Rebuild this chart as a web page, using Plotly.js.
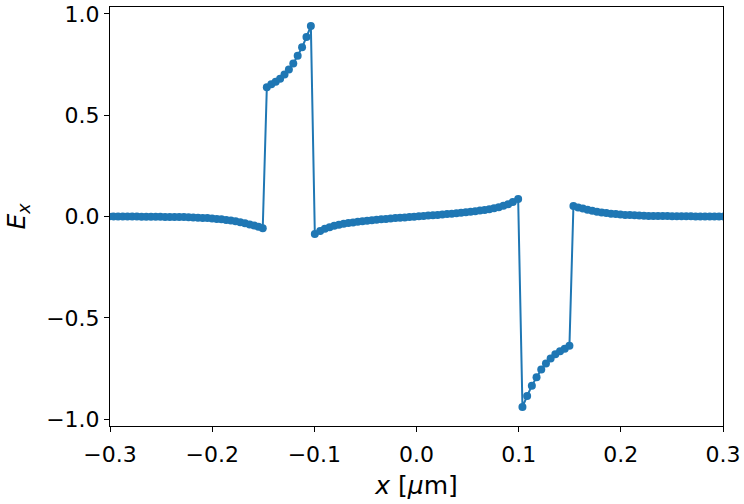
<!DOCTYPE html>
<html>
<head>
<meta charset="utf-8">
<script src="https://cdn.plot.ly/plotly-3.0.1.min.js"></script>
<style>
  body { margin: 0; background: #fff; }
  #myDiv { width: 744px; height: 504px; }
</style>
</head>
<body>
<div id="myDiv"></div>
<script>
// sample positions [um]
var xPos = [
  -0.3013, -0.2967, -0.2921, -0.2875, -0.2829, -0.2783, -0.2737, -0.2691, -0.2645, -0.2599,
  -0.2553, -0.2507, -0.2461, -0.2415, -0.2369, -0.2323, -0.2277, -0.2231, -0.2185, -0.2139,
  -0.2093, -0.2047, -0.2001, -0.1955, -0.1909, -0.1863, -0.1817, -0.1771, -0.1725, -0.1679,
  -0.1633, -0.1589, -0.1547, -0.1505,
  -0.1465, -0.1421, -0.1378, -0.1335, -0.1292, -0.1249, -0.1206, -0.1163, -0.1120, -0.1077, -0.1034,
  -0.0995, -0.0943, -0.0897, -0.0851, -0.0805, -0.0759, -0.0713, -0.0667, -0.0621, -0.0575,
  -0.0529, -0.0483, -0.0437, -0.0391, -0.0345, -0.0299, -0.0253, -0.0207, -0.0161, -0.0115,
  -0.0069, -0.0023,
  0.0023, 0.0069, 0.0115, 0.0161, 0.0207, 0.0253, 0.0299, 0.0345, 0.0391, 0.0437,
  0.0483, 0.0529, 0.0575, 0.0621, 0.0667, 0.0713, 0.0759, 0.0805, 0.0851, 0.0897,
  0.0943, 0.0995,
  0.1037, 0.1083, 0.1129, 0.1175, 0.1221, 0.1267, 0.1313, 0.1359, 0.1405, 0.1451, 0.1497,
  0.1536, 0.1582, 0.1628, 0.1674, 0.1720, 0.1766, 0.1812, 0.1858, 0.1904, 0.1950,
  0.1996, 0.2042, 0.2088, 0.2134, 0.2180, 0.2226, 0.2272, 0.2318, 0.2364, 0.2410,
  0.2456, 0.2502, 0.2548, 0.2594, 0.2640, 0.2686, 0.2732, 0.2778, 0.2824, 0.2870,
  0.2916, 0.2962, 0.3008
];

// field component E_x
var exVals = [
  0, 0, 0, 0, 0, 0, 0, -0.001, -0.001, -0.001,
  -0.001, -0.001, -0.002, -0.002, -0.002, -0.003, -0.003, -0.004, -0.005, -0.006,
  -0.007, -0.008, -0.010, -0.012, -0.014, -0.017, -0.020, -0.024, -0.028, -0.033,
  -0.039, -0.045, -0.051, -0.058,
  0.638, 0.653, 0.665, 0.680, 0.701, 0.726, 0.755, 0.794, 0.835, 0.886, 0.940,
  -0.086, -0.071, -0.061, -0.053, -0.046, -0.041, -0.036, -0.032, -0.029, -0.026,
  -0.023, -0.021, -0.018, -0.016, -0.014, -0.012, -0.010, -0.008, -0.006, -0.005,
  -0.003, -0.001,
  0.001, 0.003, 0.005, 0.006, 0.008, 0.010, 0.012, 0.014, 0.016, 0.018,
  0.021, 0.023, 0.026, 0.029, 0.032, 0.036, 0.041, 0.046, 0.053, 0.061,
  0.071, 0.086,
  -0.940, -0.886, -0.835, -0.794, -0.755, -0.726, -0.701, -0.680, -0.665, -0.653, -0.638,
  0.052, 0.045, 0.039, 0.033, 0.028, 0.024, 0.020, 0.017, 0.014, 0.012,
  0.010, 0.008, 0.007, 0.006, 0.005, 0.004, 0.003, 0.003, 0.002, 0.002,
  0.002, 0.001, 0.001, 0.001, 0.001, 0.001, 0, 0, 0, 0,
  0, 0, 0
];

var xTicks = [-0.3, -0.2, -0.1, 0.0, 0.1, 0.2, 0.3];
var yTicks = [-1.0, -0.5, 0.0, 0.5, 1.0];

var trace = {
  x: xPos,
  y: exVals,
  mode: 'lines+markers',
  line: { color: '#1f77b4', width: 2 },
  marker: { color: '#1f77b4', size: 8 },
  showlegend: false
};

var tickFont = { family: 'DejaVu Sans', size: 22, color: '#000' };
var labelFont = { family: 'DejaVu Sans', size: 25, color: '#000' };

var layout = {
  width: 744,
  height: 504,
  margin: { l: 110, r: 21, t: 7, b: 78 },
  paper_bgcolor: '#fff',
  plot_bgcolor: '#fff',
  font: tickFont,
  xaxis: {
    range: [-0.3, 0.3],
    tickvals: xTicks,
    tickformat: '.1f',
    ticks: 'outside',
    ticklen: 5,
    tickwidth: 1,
    tickcolor: '#000',
    ticklabelstandoff: 4,
    showline: true,
    linecolor: '#000',
    linewidth: 1,
    mirror: true,
    showgrid: false,
    zeroline: false,
    tickfont: tickFont,
    title: { text: '<i>x</i> [<i>μ</i>m]', font: labelFont, standoff: 10 }
  },
  yaxis: {
    range: [-1.034, 1.034],
    tickvals: yTicks,
    tickformat: '.1f',
    ticks: 'outside',
    ticklen: 5,
    tickwidth: 1,
    tickcolor: '#000',
    showline: true,
    linecolor: '#000',
    linewidth: 1,
    mirror: true,
    showgrid: false,
    zeroline: false,
    tickfont: tickFont,
    title: { text: '<i>E</i><sub><i>x</i></sub>', font: labelFont, standoff: 13 }
  }
};

Plotly.newPlot('myDiv', [trace], layout, { staticPlot: true });
</script>
</body>
</html>
